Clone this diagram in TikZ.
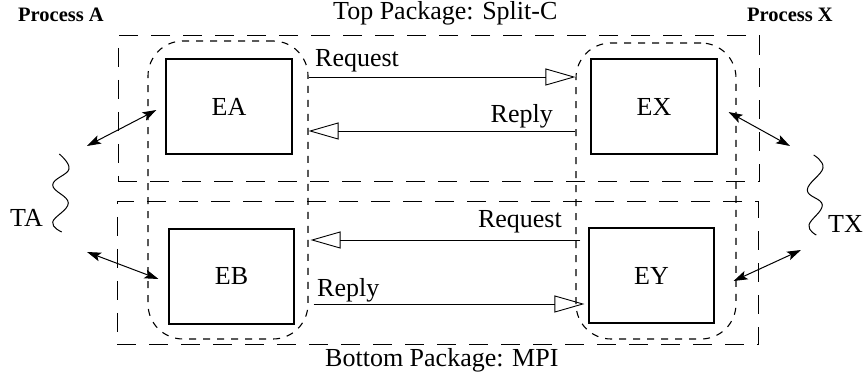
\documentclass[tikz,border=0pt]{standalone}
\usepackage{fontspec}
\setmainfont{Liberation Serif}
\usetikzlibrary{arrows.meta}
\begin{document}
\begin{tikzpicture}[x=1pt,y=-1pt,
  txt/.style={font=\fontsize{26}{30}\selectfont, inner sep=0pt},
  proc/.style={font=\fontsize{20.5}{24}\selectfont\bfseries, inner sep=0pt},
  pkg/.style={draw, line width=1pt, dash pattern=on 19pt off 13pt, inner sep=0pt},
  region/.style={draw, line width=1.1pt, dash pattern=on 7pt off 7pt, rounded corners=35pt, inner sep=0pt},
  entity/.style={draw, line width=1.1pt, inner sep=0pt, minimum width=126pt, minimum height=95pt,
                 font=\fontsize{26}{30}\selectfont},
  msg/.style={line width=0.9pt, -{Triangle[open, length=30pt, width=17pt, line width=0.9pt]}},
  link/.style={line width=1pt, {Stealth[length=14pt, width=9pt, inset=3pt]}-{Stealth[length=14pt, width=9pt, inset=3pt]}},
  squig/.style={line width=1pt},
]
\useasboundingbox (0,0) rectangle (863,379);

% packages
\node[pkg, minimum width=641pt, minimum height=146pt] (topPkg) at (438.5,109) {};
\node[pkg, minimum width=641pt, minimum height=143pt] (botPkg) at (437.5,273.5) {};
\node[txt, anchor=base west] (topTitle) at (333,20) {Top Package: Split-C};
\node[txt, anchor=base west] (botTitle) at (325,367) {Bottom Package: MPI};

% processes
\node[region, minimum width=160pt, minimum height=298pt] (procA) at (228,190) {};
\node[region, minimum width=160pt, minimum height=296pt] (procX) at (656,191) {};
\node[proc, anchor=base west] (procAlbl) at (18,22) {Process A};
\node[proc, anchor=base west] (procXlbl) at (747,22) {Process X};

% entities
\node[entity] (ea) at (229,106.5) {EA};
\node[entity] (ex) at (654,106.5) {EX};
\node[entity, minimum width=125pt] (eb) at (231.5,276.5) {EB};
\node[entity, minimum width=125pt] (ey) at (651.5,275.5) {EY};

% messages between the processes
\draw[msg] (procA.east |- 0,77) -- (procX.west |- 0,77);
\draw[msg] (procX.west |- 0,131) -- (procA.east |- 0,131);
\draw[msg] ([xshift=5pt]procX.west |- 0,240) -- ([xshift=2pt]procA.east |- 0,240);
\draw[msg] ([xshift=5pt]procA.east |- 0,304) -- ([xshift=9pt]procX.west |- 0,304);
\node[txt, anchor=base west] (req1) at (315,67) {Request};
\node[txt, anchor=base east] (rep1) at (553,123) {Reply};
\node[txt, anchor=base east] (req2) at (562,228) {Request};
\node[txt, anchor=base west] (rep2) at (317,297) {Reply};

% thread links
\coordinate (ta1) at (87,146);
\coordinate (ta2) at (87,252);
\coordinate (tx1) at (790,146);
\coordinate (tx2) at (801,250);
\draw[link] (ta1) -- ([shift={(-9,3.5)}]ea.west);
\draw[link] (ta2) -- ([shift={(-10,2.5)}]eb.west);
\draw[link] ([shift={(11,5.5)}]ex.east) -- (tx1);
\draw[link] ([shift={(19,5.5)}]ey.east) -- (tx2);

% thread braces
\draw[squig] plot[smooth, tension=0.7] coordinates {(59.3,154) (69,169) (52.7,185) (68.3,203) (52.7,222) (61.7,232)};
\draw[squig] plot[smooth, tension=0.7] coordinates {(813.7,155) (823,168) (807.3,190) (822.3,205) (809,225) (816.3,235)};
\node[txt, anchor=base west] (ta) at (10,227) {TA};
\node[txt, anchor=base west] (tx) at (828,233) {TX};
\end{tikzpicture}
\end{document}
